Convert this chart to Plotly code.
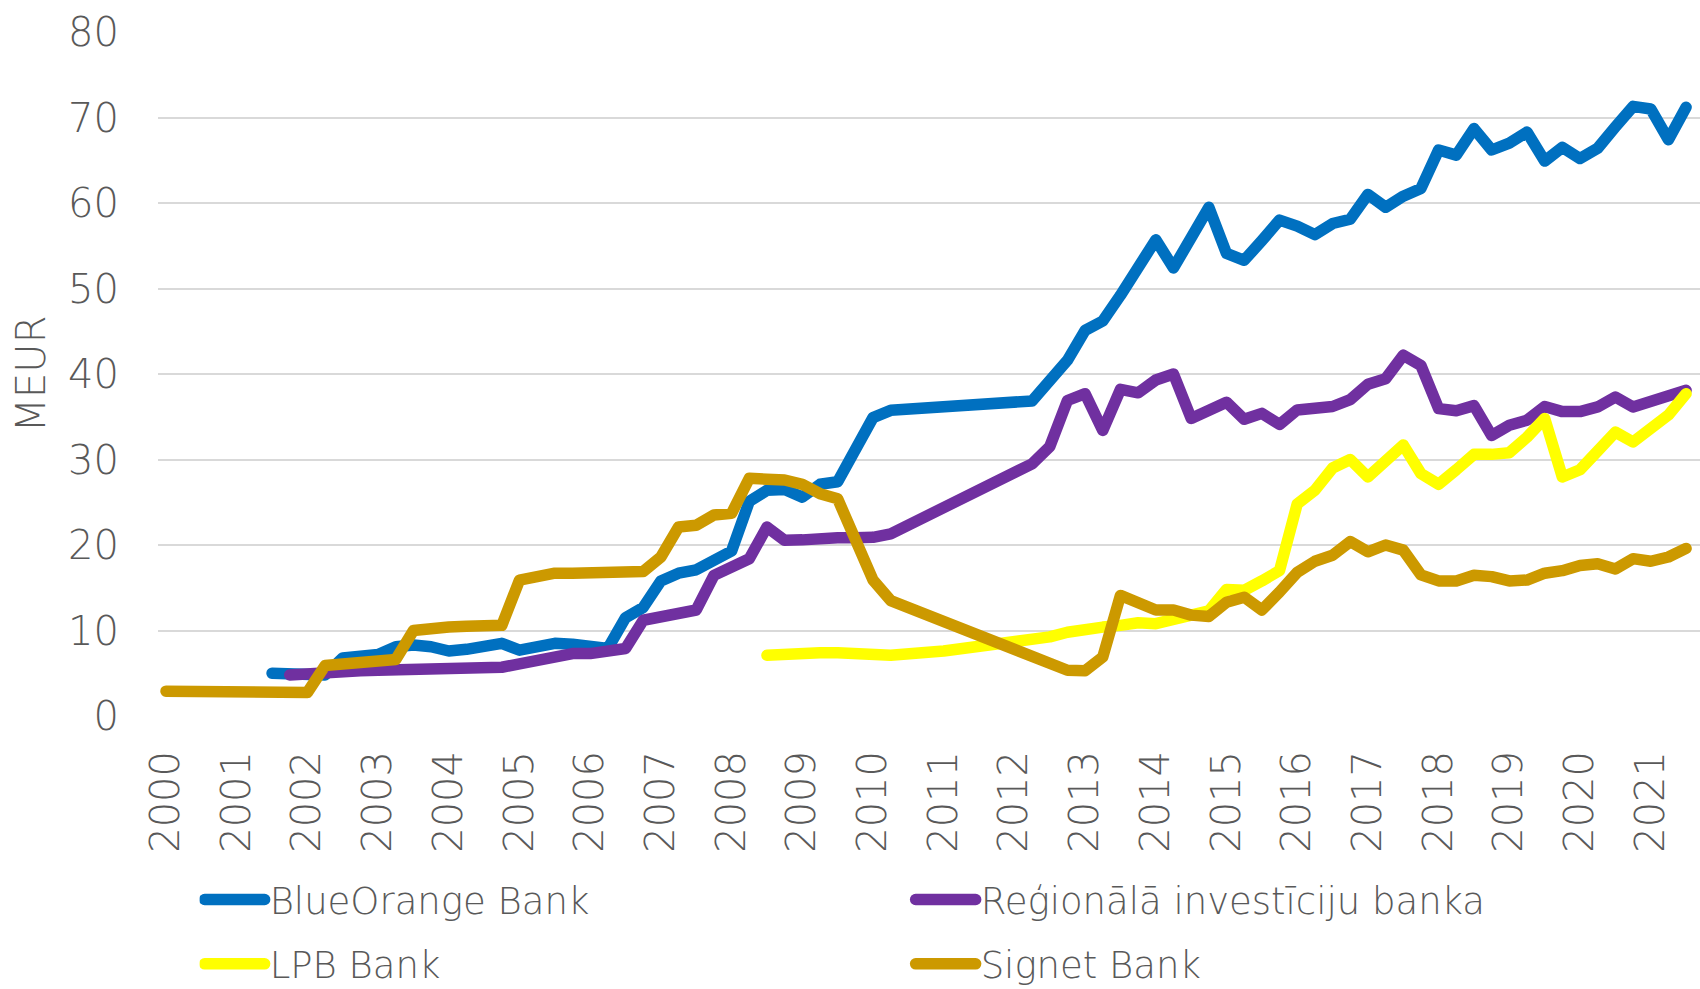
import plotly.graph_objects as go

# ---- data (quarterly, 2000Q1 .. 2021Q3; None = no reading for that quarter) ----
years = list(range(2000, 2022))
quarters_per_year = ["Q1", "Q2", "Q3", "Q4"]
last_quarter = "2021Q3"

blue_orange = [
    None, None, None, None, None, None, 5.0, 5.0,            # 2000-2001
    4.9, 4.8, 6.8, 7.0, 7.2, 8.1, 8.3, 8.1,                   # 2002-2003
    7.6, 7.8, 8.1, 8.5, 7.7, 8.1, 8.5, 8.4,                   # 2004-2005
    8.0, 7.9, 11.5, 12.7, 15.8, 16.7, 17.1, 18.2,             # 2006-2007
    19.3, 25.1, 26.4, 26.5, 25.6, 27.1, 27.4, None,           # 2008-2009
    34.9, 35.75, None, None, None, None, None, None,          # 2010-2011
    None, 36.85, 39.2, 41.6, 45.1, 46.2, 49.2, 52.7,          # 2012-2013
    55.7, 52.4, 56.2, 59.5, 54.1, 53.3, 55.6, 58.0,           # 2014-2015
    57.3, 56.3, 57.6, 58.1, 61.0, 59.5, 60.8, 61.7,           # 2016-2017
    66.2, 65.6, 68.7, 66.2, 67.0, 68.3, 64.9, 66.5,           # 2018-2019
    65.2, 66.4, 68.9, 71.3, 71.0, 67.4, 71.2,                 # 2020-2021Q3
]
regionala = [
    None, None, None, None, None, None, None, 4.8,
    5.0, 5.15, 5.2, 5.3, 5.35, 5.4, 5.4, 5.4,
    5.45, 5.45, 5.6, 5.7, 6.1, 6.6, 7.1, 7.3,
    7.3, 7.6, 7.9, 11.2, 11.6, 12.0, 12.4, 16.45,
    17.4, 18.4, 22.1, 20.55, 20.6, 20.85, 20.85, 20.85,
    20.9, 21.3, None, None, None, None, None, None,
    None, 29.5, 31.5, 36.9, 37.7, 33.4, 38.2, 37.8,
    39.3, 40.0, 34.8, 35.7, 36.7, 34.7, 35.4, 34.1,
    35.8, 36.0, 36.2, 37.0, 38.8, 39.45, 42.2, 41.0,
    35.95, 35.7, 36.3, 32.8, 34.0, 34.6, 36.2, 35.6,
    35.6, 36.15, 37.3, 36.15, 36.7, 37.4, 38.1,
]
lpb = [
    None, None, None, None, None, None, None, None,
    None, None, None, None, None, None, None, None,
    None, None, None, None, None, None, None, None,
    None, None, None, None, None, None, None, None,
    None, None, 7.1, 7.3, 7.4, 7.4, 7.4, 7.3,
    7.25, 7.1, None, None, 7.6, None, None, None,
    8.6, 8.8, 9.25, 9.8, 10.2, 10.4, 10.6, 10.9,
    10.8, 11.2, 11.6, 12.3, 14.8, 14.7, 15.8, 17.0,
    24.8, 26.4, 29.0, 30.0, 27.95, 29.7, 31.7, 28.35,
    27.1, 28.8, 30.6, 30.6, 30.8, 32.6, 34.8, 27.95,
    28.8, 31.0, 33.2, 32.05, 33.6, 35.2, 37.7,
]
signet = [
    2.9, 2.9, 2.95, 2.95, 2.95, 2.95, 2.95, 2.9,
    2.75, 5.9, 6.1, 6.2, 6.4, 6.6, 10.0, 10.3,
    10.4, 10.5, 10.6, 10.6, 15.9, 16.4, 16.7, 16.7,
    16.7, 16.8, 16.9, 16.9, 18.6, 22.1, 22.3, 23.5,
    23.7, 27.8, 27.7, 27.6, 27.1, 26.0, 25.4, None,
    15.9, 13.5, None, None, None, None, None, None,
    None, None, 6.0, 5.35, 5.3, 6.9, 14.1, 13.1,
    12.4, 12.4, 11.8, 11.65, 13.3, 13.9, 12.4, 14.5,
    16.8, 18.1, 18.8, 20.4, 19.2, 20.0, 19.4, 16.5,
    15.8, 15.8, 16.45, 16.3, 15.8, 15.9, 16.7, 17.0,
    17.6, 17.8, 17.2, 18.4, 18.1, 18.6, 19.6,
]

series_names = ["BlueOrange Bank", "Reģionālā investīciju banka", "LPB Bank", "Signet Bank"]
series_values = [blue_orange, regionala, lpb, signet]
series_colors = ["#0070C0", "#7030A0", "#FFFF00", "#CC9900"]
series_legend = ["legend", "legend", "legend2", "legend2"]

y_ticks = [0, 10, 20, 30, 40, 50, 60, 70, 80]

# quarter positions on a decimal-year axis
quarter_labels = []
quarter_pos = []
for y in years:
    for i, q in enumerate(quarters_per_year):
        quarter_labels.append(f"{y}{q}")
        quarter_pos.append(y + i / 4)
        if f"{y}{q}" == last_quarter:
            break

FONT = "DejaVu Sans"
GREY = "#595959"
WEIGHT = 200
LW = 11.5

fig = go.Figure()
for name, vals, col, lg in zip(series_names, series_values, series_colors, series_legend):
    fig.add_trace(go.Scatter(
        x=quarter_pos[:len(vals)], y=vals, name=name, mode="lines",
        line=dict(color=col, width=LW), connectgaps=True, legend=lg,
        customdata=quarter_labels[:len(vals)],
        hovertemplate="%{customdata}: %{y}<extra>" + name + "</extra>",
    ))

legend_common = dict(
    orientation="h", xanchor="left", yanchor="middle",
    font=dict(family=FONT, size=37, color=GREY, weight=WEIGHT),
    bgcolor="rgba(0,0,0,0)", borderwidth=0, itemwidth=60,
    entrywidth=636, entrywidthmode="pixels", traceorder="normal",
)

tick_font = dict(family=FONT, size=40, color=GREY, weight=WEIGHT)

fig.update_layout(
    width=1700, height=989,
    margin=dict(l=158, r=0, t=32, b=273, autoexpand=False),
    paper_bgcolor="white", plot_bgcolor="white",
    font=dict(family=FONT, size=40, color=GREY, weight=WEIGHT),
    showlegend=True,
    legend=dict(legend_common, x=0.027, y=-0.269),
    legend2=dict(legend_common, x=0.027, y=-0.363),
    xaxis=dict(
        range=[1999.887, 2021.697], tickmode="array",
        tickvals=years, ticktext=[str(y) for y in years],
        tickangle=-90, showgrid=False, zeroline=False, showline=False,
        ticks="", ticklabelstandoff=26, automargin=False,
        tickfont=tick_font,
    ),
    yaxis=dict(
        range=[0, 80], tickvals=y_ticks, showgrid=True,
        gridcolor="#D9D9D9", gridwidth=2, zeroline=False, showline=False,
        ticks="", ticklabelstandoff=38, automargin=False,
        tickfont=tick_font,
        title=dict(text="MEUR", standoff=10, font=tick_font),
    ),
)

post = """
document.body.style.margin='0';
document.body.style.overflow='hidden';
var gd=document.getElementById('{plot_id}');
gd.querySelectorAll('.scatterlayer path.js-line').forEach(function(p){
  p.style.strokeLinejoin='round'; p.style.strokeLinecap='round';});
gd.querySelectorAll('.legendlines path').forEach(function(p){
  p.style.strokeLinecap='round'; p.style.strokeWidth='11.5px';});
"""

fig.write_html("out.html", post_script=post, config={"displayModeBar": False})
